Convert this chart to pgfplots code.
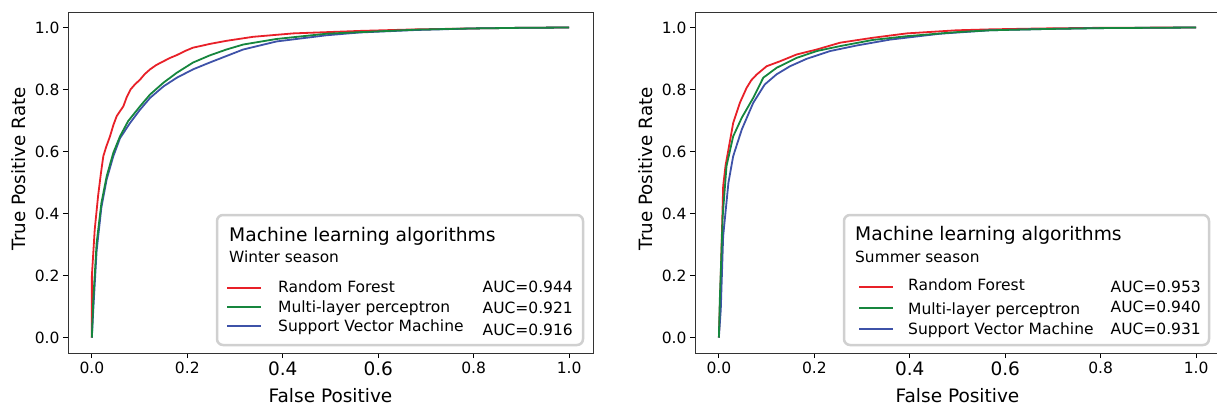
\documentclass[border=0pt]{standalone}
\usepackage{pgfplots}
\pgfplotsset{compat=1.18}
\usepackage{pgfplotstable}
\usepackage{fontspec}
\setmainfont{DejaVu Sans}
\definecolor{rfred}{RGB}{232,32,40}
\definecolor{mlpgreen}{RGB}{22,134,62}
\definecolor{svmblue}{RGB}{62,82,168}
\definecolor{legframe}{RGB}{208,208,208}

% Winter season
\pgfplotstableread{
x y
0 0
0 0.198
0.006 0.348
0.013 0.456
0.019 0.530
0.024 0.585
0.030 0.615
0.038 0.649
0.045 0.685
0.052 0.714
0.059 0.730
0.066 0.746
0.073 0.775
0.081 0.800
0.090 0.816
0.101 0.832
0.111 0.850
0.122 0.865
0.135 0.879
0.150 0.891
0.164 0.902
0.178 0.911
0.195 0.924
0.212 0.935
0.230 0.941
0.247 0.947
0.282 0.957
0.338 0.970
0.422 0.981
0.562 0.989
0.680 0.994
0.800 0.997
0.900 0.999
1 1
}\winterRF
\pgfplotstableread{
x y
0 0
0.003 0.123
0.010 0.305
0.020 0.434
0.031 0.520
0.045 0.596
0.059 0.649
0.076 0.698
0.101 0.746
0.122 0.784
0.150 0.822
0.178 0.854
0.212 0.887
0.247 0.910
0.282 0.929
0.317 0.945
0.387 0.963
0.492 0.980
0.562 0.985
0.680 0.993
0.800 0.997
0.900 0.999
1 1
}\winterMLP
\pgfplotstableread{
x y
0 0
0.003 0.090
0.010 0.280
0.020 0.420
0.031 0.510
0.045 0.585
0.059 0.643
0.080 0.692
0.101 0.735
0.122 0.773
0.150 0.810
0.178 0.838
0.212 0.865
0.247 0.887
0.282 0.908
0.317 0.929
0.387 0.955
0.492 0.975
0.562 0.984
0.680 0.992
0.800 0.997
0.900 0.999
1 1
}\winterSVM
% Summer season
\pgfplotstableread{
x y
0 0
0.004 0.198
0.009 0.488
0.014 0.555
0.020 0.606
0.030 0.692
0.044 0.757
0.058 0.805
0.068 0.830
0.079 0.848
0.100 0.875
0.128 0.891
0.163 0.913
0.205 0.929
0.254 0.951
0.323 0.967
0.394 0.981
0.498 0.991
0.568 0.994
0.680 0.997
0.800 0.999
1 1
}\summerRF
\pgfplotstableread{
x y
0 0
0.002 0.123
0.008 0.391
0.016 0.553
0.030 0.649
0.048 0.709
0.072 0.773
0.093 0.838
0.121 0.870
0.163 0.902
0.205 0.924
0.254 0.940
0.323 0.960
0.394 0.972
0.498 0.985
0.568 0.991
0.680 0.995
0.800 0.998
1 1
}\summerMLP
\pgfplotstableread{
x y
0 0
0.004 0.090
0.009 0.327
0.020 0.499
0.030 0.585
0.048 0.671
0.072 0.757
0.096 0.816
0.121 0.849
0.149 0.875
0.184 0.899
0.233 0.924
0.289 0.942
0.359 0.961
0.464 0.980
0.568 0.991
0.680 0.995
0.800 0.998
1 1
}\summerSVM

\pgfplotsset{rocaxis/.style={
  width=525pt, height=341pt, scale only axis,
  xmin=-0.05, xmax=1.05, ymin=-0.05, ymax=1.05,
  xtick={0,0.2,0.4,0.6,0.8,1},
  xticklabels={0.0,0.2,{\fontsize{18.5}{19}\selectfont 0.4},{\fontsize{18.5}{19}\selectfont 0.6},0.8,1.0},
  ytick={0,0.2,0.4,0.6,0.8,1},
  yticklabels={0.0,0.2,0.4,0.6,0.8,1.0},
  xtick pos=bottom, ytick pos=left,
  tick label style={font=\fontsize{15.5}{16}\selectfont},
  tick align=outside, major tick length=5pt,
  axis line style={line width=1pt, black!80},
  every tick/.style={black, line width=1pt},
  xlabel={False Positive}, ylabel={True Positive Rate},
  xlabel style={font=\fontsize{18.5}{19}\selectfont, at={(axis description cs:0.5,-0.1466)}, anchor=base},
  ylabel style={font=\fontsize{18.3}{19}\selectfont, at={(axis description cs:-0.0933,0.54)}, anchor=center},
  every axis plot/.append style={line width=1.8pt, line join=round, no marks},
}}

\begin{document}
\begin{tikzpicture}[x=1pt,y=1pt]
\useasboundingbox (0,0) rectangle (1217,408);
% ---------------- left: winter
\begin{axis}[rocaxis, at={(68pt,55pt)}, anchor=south west]
\addplot[rfred] table {\winterRF};
\addplot[svmblue] table {\winterSVM};
\addplot[mlpgreen] table {\winterMLP};
\end{axis}
\draw[rounded corners=6pt, draw=legframe, line width=2.5pt, fill=white] (217,63) rectangle (583,193);
\node[anchor=base west, inner sep=0, font=\fontsize{18.7}{19}\selectfont] at (229,167) {Machine learning algorithms};
\node[anchor=base west, inner sep=0, font=\fontsize{15.4}{16}\selectfont] at (229,146) {Winter season};
\draw[rfred, line width=1.8pt] (227,120) -- (261,120);
\draw[mlpgreen, line width=1.8pt] (227,101) -- (261,101);
\draw[svmblue, line width=1.8pt] (227,82) -- (261,82);
\begin{scope}[every node/.style={inner sep=0, font=\fontsize{15.5}{16}\selectfont}]
\node[anchor=base west] at (278,116) {Random Forest};
\node[anchor=base west] at (278,96) {Multi-layer perceptron};
\node[anchor=base west] at (278,77) {Support Vector Machine};
\node[anchor=base east] at (573,116) {AUC=0.944};
\node[anchor=base east] at (573,95) {AUC=0.921};
\node[anchor=base east] at (573,73) {AUC=0.916};
\end{scope}
% ---------------- right: summer
\begin{axis}[rocaxis, at={(695pt,55pt)}, anchor=south west]
\addplot[rfred] table {\summerRF};
\addplot[svmblue] table {\summerSVM};
\addplot[mlpgreen] table {\summerMLP};
\end{axis}
\draw[rounded corners=6pt, draw=legframe, line width=2.5pt, fill=white] (844,63) rectangle (1209,193);
\node[anchor=base west, inner sep=0, font=\fontsize{18.7}{19}\selectfont] at (855,168) {Machine learning algorithms};
\node[anchor=base west, inner sep=0, font=\fontsize{15.4}{16}\selectfont] at (855,146) {Summer season};
\draw[rfred, line width=1.8pt] (859,121) -- (893,121);
\draw[mlpgreen, line width=1.8pt] (859,100) -- (893,100);
\draw[svmblue, line width=1.8pt] (859,79) -- (893,79);
\begin{scope}[every node/.style={inner sep=0, font=\fontsize{15.5}{16}\selectfont}]
\node[anchor=base west] at (908,118) {Random Forest};
\node[anchor=base west] at (908,94) {Multi-layer perceptron};
\node[anchor=base west] at (908,74) {Support Vector Machine};
\node[anchor=base east] at (1201,116) {AUC=0.953};
\node[anchor=base east] at (1201,96) {AUC=0.940};
\node[anchor=base east] at (1201,74) {AUC=0.931};
\end{scope}
\end{tikzpicture}
\end{document}
